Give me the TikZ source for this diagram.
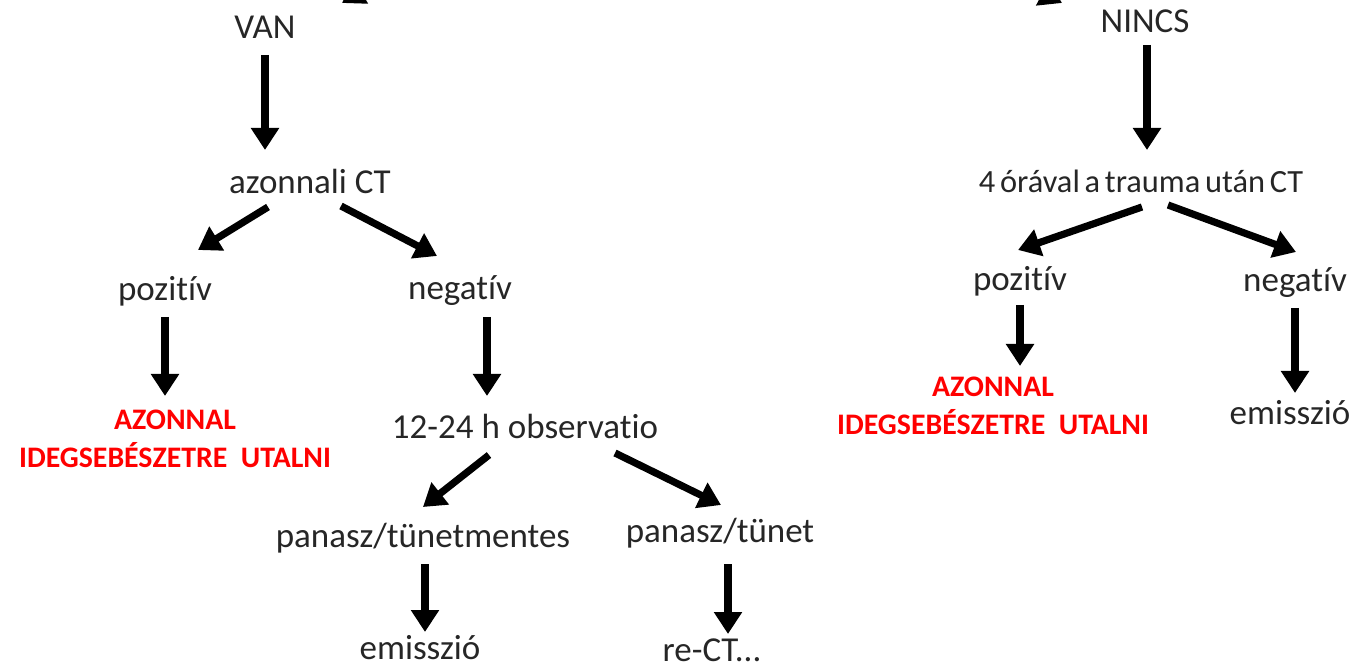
\documentclass[tikz,border=0pt]{standalone}
\usepackage{fontspec}
\setmainfont[Ligatures={NoCommon}]{Carlito}
\usetikzlibrary{arrows.meta}
\newcommand\tightsp{\spaceskip=0.65\fontdimen2\font\relax}
\tikzset{
  lbl/.style={font=\fontsize{17.5}{20}\selectfont, inner sep=0pt, text=black!85},
  redlbl/.style={font=\fontsize{14.9}{19}\selectfont\bfseries, inner sep=0pt, text=red, align=center},
  arr/.style={line width=3.6pt, -{Triangle[length=11pt,width=13.5pt]}, black}
}
\begin{document}
\begin{tikzpicture}[x=0.5pt,y=-0.5pt]
\useasboundingbox (0,0) rectangle (1353,667);
\clip (0,0) rectangle (1353,667);
% left branch
\node[lbl] (van) at (265,27) {VAN};
\node[lbl] (act) at (310,181) {azonnali CT};
\node[lbl] (lpos) at (165,291) {pozitív};
\node[lbl] (lneg) at (460,291) {negatív};
\node[redlbl] (lred) at (175,439) {AZONNAL\\IDEGSEBÉSZETRE\ \ UTALNI};
\node[lbl] (obs) at (525,426) {12-24 h observatio};
\node[lbl] (ptm) at (423,538) {panasz/tünetmentes};
\node[lbl] (pt) at (720,533) {panasz/tünet};
\node[lbl] (lem) at (420,648) {emisszió};
\node[lbl] (rect) at (712,650) {re-CT...};
% right branch
\node[lbl] (nincs) at (1145,21) {NINCS};
\node[lbl, font=\fontsize{16.2}{20}\selectfont] (rct) at (1141,181) {\tightsp 4 órával a trauma után CT};
\node[lbl] (rpos) at (1020,281) {pozitív};
\node[lbl] (rneg) at (1295,283) {negatív};
\node[redlbl] (rred) at (993,406) {AZONNAL\\IDEGSEBÉSZETRE\ \ UTALNI};
\node[lbl] (rem) at (1290,413) {emisszió};
% top cut-off arrows
\coordinate (topl) at (445,-60);
\coordinate (topr) at (930,-65);
\coordinate (tipl) at (342,3);
\coordinate (tipr) at (1062,3);
\draw[arr] (topl) -- (tipl);
\draw[arr] (topr) -- (tipr);
% connectors
\draw[arr] (265,55) -- (265,150);
\draw[arr] (268,207) -- (198,250);
\draw[arr] (341,206) -- (437,256);
\draw[arr] (165,317) -- (165,396);
\draw[arr] (487,317) -- (487,396);
\draw[arr] (489,455) -- (423,507);
\draw[arr] (615,453) -- (721,505);
\draw[arr] (425,564) -- (425,632);
\draw[arr] (728,564) -- (728,634);
\draw[arr] (1147,45) -- (1147,150);
\draw[arr] (1142,207) -- (1018,250);
\draw[arr] (1168,205) -- (1296,252);
\draw[arr] (1020,305) -- (1020,366);
\draw[arr] (1295,308) -- (1295,393);
\end{tikzpicture}
\end{document}
